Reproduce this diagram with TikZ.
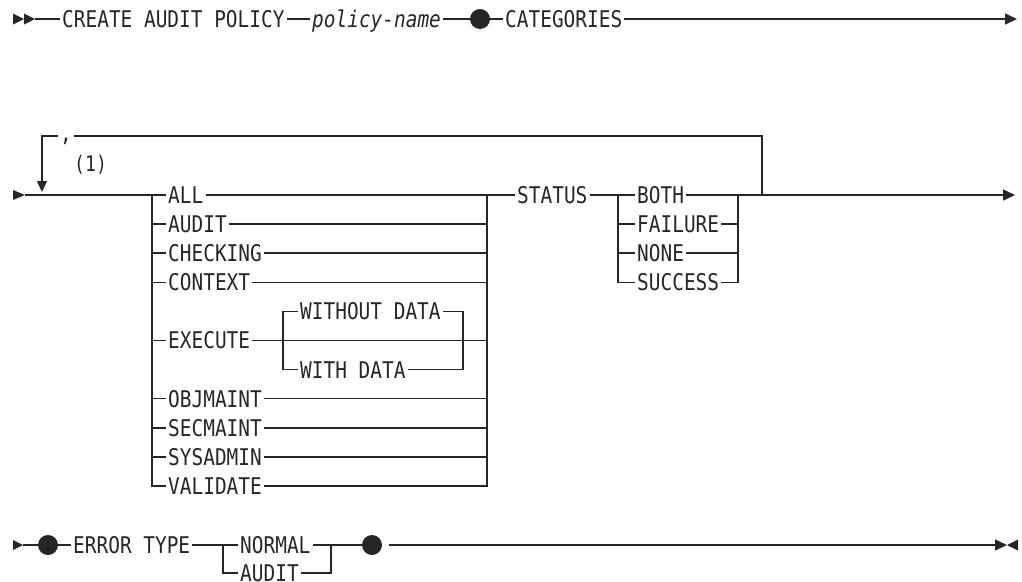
\documentclass[tikz,border=0pt]{standalone}
\usepackage{fontspec}
\usetikzlibrary{arrows.meta}
\newfontfamily\diagf[FakeStretch=0.845]{DejaVu Sans Mono}
\definecolor{lc}{gray}{0.15}
\tikzset{
  kw/.style={font=\diagf\fontsize{23}{25}\selectfont, text=lc, inner xsep=2pt, inner ysep=0pt,
             text height=16.8pt, text depth=0pt, anchor=west},
  rr/.style={line width=1.5pt, draw=lc},
  rdot/.style={circle, fill=lc, inner sep=0pt, minimum size=20pt},
  tip/.style={-{Triangle[length=12pt,width=11pt]}},
}
\begin{document}
\begin{tikzpicture}[x=1pt,y=-1pt]
\useasboundingbox (0,0) rectangle (1022,581);

% ---------------- Row 1 ----------------
\fill[lc] (13,13.5) -- (24,19) -- (13,24.5) -- cycle;
\fill[lc] (24,13.5) -- (35,19) -- (24,24.5) -- cycle;
\coordinate (s1) at (35,19);
\node[kw] (create) at (60,19) {CREATE AUDIT POLICY};
\node[kw] (pname) at (310,19) {\itshape policy-name};
\node[rdot] (d1) at (480,19) {};
\node[kw] (cat) at (503,19) {CATEGORIES};
\coordinate (e1) at (1017,19);
\draw[rr] (s1) -- (create.west);
\draw[rr] (create.east) -- (pname.west);
\draw[rr] (pname.east) -- (d1.west);
\draw[rr] (d1.east) -- (cat.west);
\draw[rr,tip] (cat.east) -- (e1);

% ---------------- Row 2 ----------------
\fill[lc] (13,190) -- (25,195) -- (13,200) -- cycle;
\coordinate (s2) at (25,195);

% repeat loop
\coordinate (lp) at (762,195);
\coordinate (lpt) at (762,136);
\coordinate (lpl) at (42,136);
\coordinate (lpa) at (42,192);
\draw[rr,-{Triangle[length=11pt,width=10pt]}] (lp) -- (lpt) -- (lpl) -- (lpa);
\node[font=\diagf\fontsize{23}{25}\selectfont, text=lc, fill=white, inner xsep=2pt, inner ysep=0pt,
      text height=8pt, text depth=4pt, anchor=base] (comma) at (66,141) {,};
\node[font=\diagf\fontsize{21.5}{23}\selectfont, text=lc, anchor=west, inner sep=0pt] (fn) at (74,165) {(1)};

% first choice group
\node[kw] (all)      at (166,195)   {ALL};
\node[kw] (audit)    at (166,224.1) {AUDIT};
\node[kw] (checking) at (166,253.2) {CHECKING};
\node[kw] (context)  at (166,282.3) {CONTEXT};
\node[kw] (execute)  at (166,340.5) {EXECUTE};
\node[kw] (objmaint) at (166,398.7) {OBJMAINT};
\node[kw] (secmaint) at (166,427.8) {SECMAINT};
\node[kw] (sysadmin) at (166,456.9) {SYSADMIN};
\node[kw] (validate) at (166,486)   {VALIDATE};
\coordinate (ja) at (152,195);
\coordinate (ka) at (487,195);
\draw[rr] (s2) -- (all.west);
\draw[rr] (ja) |- (validate.west);
\foreach \n in {audit,checking,context,execute,objmaint,secmaint,sysadmin}
  \draw[rr] (ja |- \n.west) -- (\n.west);
\draw[rr] (validate.east) -| (ka);
\foreach \n in {audit,checking,context,execute,objmaint,secmaint,sysadmin}
  \draw[rr] (\n.east) -- (ka |- \n.east);

% EXECUTE sub-choice
\node[kw] (wo) at (298,311.4) {WITHOUT DATA};
\node[kw] (wd) at (298,369.6) {WITH DATA};
\coordinate (jb) at (283,311.4);
\coordinate (kb) at (463,311.4);
\draw[rr] (wo.west) -- (jb) -- (jb |- wd.west) -- (wd.west);
\draw[rr] (wo.east) -- (kb) -- (kb |- wd.east) -- (wd.east);

% STATUS
\node[kw] (status) at (515,195) {STATUS};
\draw[rr] (all.east) -- (status.west);
\node[kw] (both)    at (635,195)   {BOTH};
\node[kw] (failure) at (635,224.1) {FAILURE};
\node[kw] (none)    at (635,253.2) {NONE};
\node[kw] (success) at (635,282.3) {SUCCESS};
\coordinate (jc) at (618,195);
\coordinate (kc) at (738,195);
\coordinate (e2) at (1015,195);
\draw[rr] (status.east) -- (both.west);
\draw[rr] (jc) |- (success.west);
\draw[rr] (jc |- failure.west) -- (failure.west);
\draw[rr] (jc |- none.west) -- (none.west);
\draw[rr] (success.east) -| (kc);
\draw[rr] (failure.east) -- (kc |- failure.east);
\draw[rr] (none.east) -- (kc |- none.east);
\draw[rr,tip] (both.east) -- (e2);

% ---------------- Row 3 ----------------
\fill[lc] (13,540) -- (23,545) -- (13,550) -- cycle;
\coordinate (s3) at (23,545);
\node[rdot] (d2) at (48,545) {};
\node[kw] (etype) at (71,545) {ERROR TYPE};
\node[kw] (normal) at (238,545) {NORMAL};
\node[kw] (eaudit) at (238,573) {AUDIT};
\coordinate (jd) at (223,545);
\coordinate (kd) at (331,545);
\node[rdot] (d3) at (372,545) {};
\coordinate (g3) at (389,545);
\coordinate (e3) at (1007,545);
\draw[rr] (s3) -- (d2.west);
\draw[rr] (d2.east) -- (etype.west);
\draw[rr] (etype.east) -- (normal.west);
\draw[rr] (jd) |- (eaudit.west);
\draw[rr] (eaudit.east) -| (kd);
\draw[rr] (normal.east) -- (d3.west);
\draw[rr,tip] (g3) -- (e3);
\fill[lc] (1018,539.5) -- (1007,545) -- (1018,550.5) -- cycle;
\end{tikzpicture}
\end{document}
